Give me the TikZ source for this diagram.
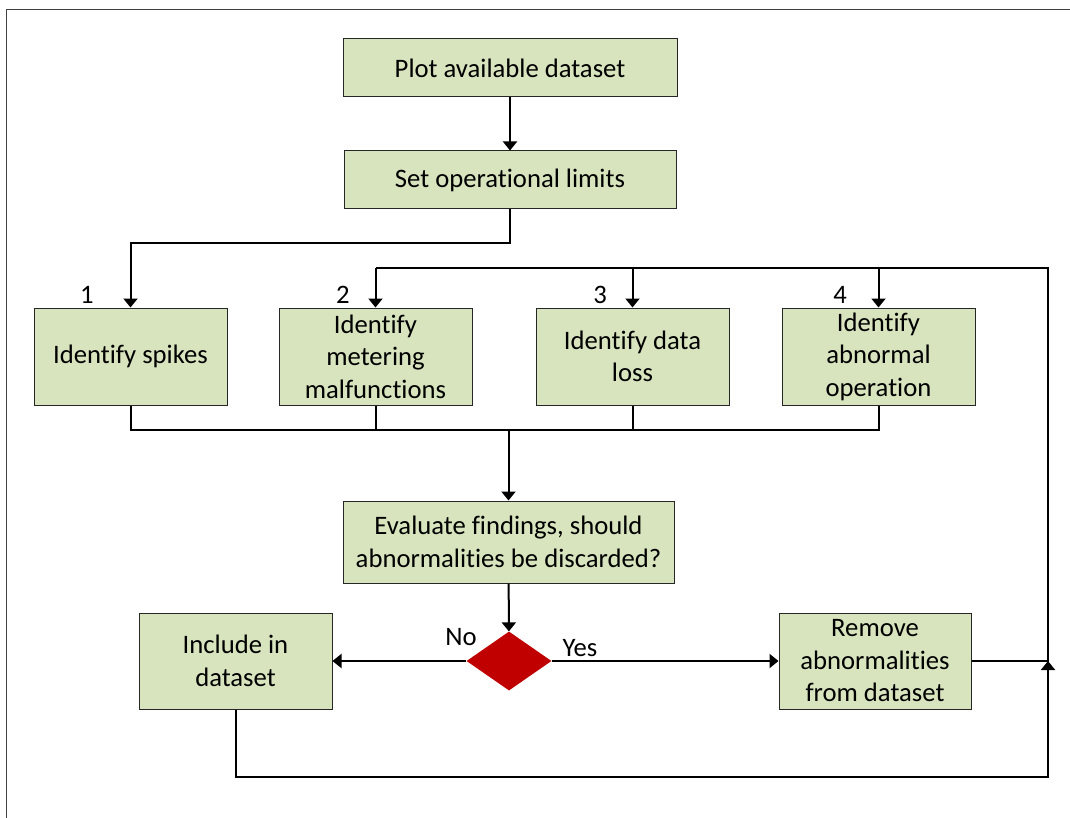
\documentclass[tikz,border=0pt]{standalone}
\usepackage{fontspec}
\setmainfont{Carlito}[Ligatures=NoCommon]
\usetikzlibrary{arrows.meta,shapes.geometric}
\definecolor{boxfill}{HTML}{D7E4BD}
\definecolor{decision}{HTML}{C00000}
\begin{document}
\begin{tikzpicture}[x=1pt,y=-1pt,
  every node/.style={font=\fontsize{26.67}{32.5}\selectfont},
  stepbox/.style={draw=black!85,line width=1pt,fill=boxfill,inner sep=0pt,align=center},
  idbox/.style={stepbox,minimum width=193pt,minimum height=97pt},
  conn/.style={line width=2pt},
  arr/.style={conn,-{Triangle[width=14pt,length=9pt]}},
  tag/.style={anchor=base,inner sep=0pt}]
\useasboundingbox (0,0) rectangle (1070,818);

% frame
\draw[line width=1.8pt,black!75] (6.5,818) -- (6.5,9.5) -- (1070,9.5);

% process steps
\node[stepbox,minimum width=334pt,minimum height=58pt] (plot) at (510,68) {Plot available dataset};
\node[stepbox,minimum width=332pt,minimum height=58pt] (limits) at (510,180) {Set operational limits};

\node[idbox] (s1) at (130.5,356.5) {Identify spikes};
\node[idbox] (s2) at (375.5,356.5) {Identify\\metering\\malfunctions};
\node[idbox] (s3) at (632.5,356.5) {Identify data\\loss};
\node[idbox] (s4) at (878.5,356.5) {Identify\\abnormal\\operation};

\node[tag] (n1) at (87,303) {1};
\node[tag] (n2) at (343,303) {2};
\node[tag] (n3) at (600,303) {3};
\node[tag] (n4) at (840,303) {4};

\node[stepbox,minimum width=331pt,minimum height=82pt] (eval) at (508.5,542) {Evaluate findings, should\\abnormalities be discarded?};
\node[diamond,fill=decision,inner sep=0pt,minimum width=85pt,minimum height=59pt] (dec) at (509,661) {};

\node[stepbox,minimum width=193pt,minimum height=96pt] (incl) at (235.5,661) {Include in\\dataset};
\node[stepbox,minimum width=192pt,minimum height=96pt] (remove) at (875,661) {Remove\\abnormalities\\from dataset};

\node[tag] (no) at (461,645) {No};
\node[tag] (yes) at (580,656) {Yes};

% routing points
\coordinate (split) at (510,243);
\coordinate (bus) at (508.5,430);
\coordinate (loopbot) at (1048,777);
\coordinate (loopjoin) at (1048,661);
\coordinate (looptop) at (1048,268);

% connectors
\draw[arr] (plot) -- (limits);
\draw[arr] (limits.south) -- (split) -| (s1.north);

\draw[conn] (s1.south) |- (s4.south |- bus) -- (s4.south);
\draw[conn] (s2.south) -- (s2.south |- bus);
\draw[conn] (s3.south) -- (s3.south |- bus);
\draw[arr] (bus) -- (eval.north);

\draw[arr] (eval) -- (dec);
\draw[arr] (dec.west) -- (incl.east);
\draw[arr] (dec.east) -- (remove.west);

\draw[arr] (incl.south) |- (loopbot) -- (loopjoin);
\draw[conn] (remove.east) -- (loopjoin) -- (looptop) -- (s2.north |- looptop);
\draw[arr] (s2.north |- looptop) -- (s2.north);
\draw[arr] (s3.north |- looptop) -- (s3.north);
\draw[arr] (s4.north |- looptop) -- (s4.north);
\end{tikzpicture}
\end{document}
